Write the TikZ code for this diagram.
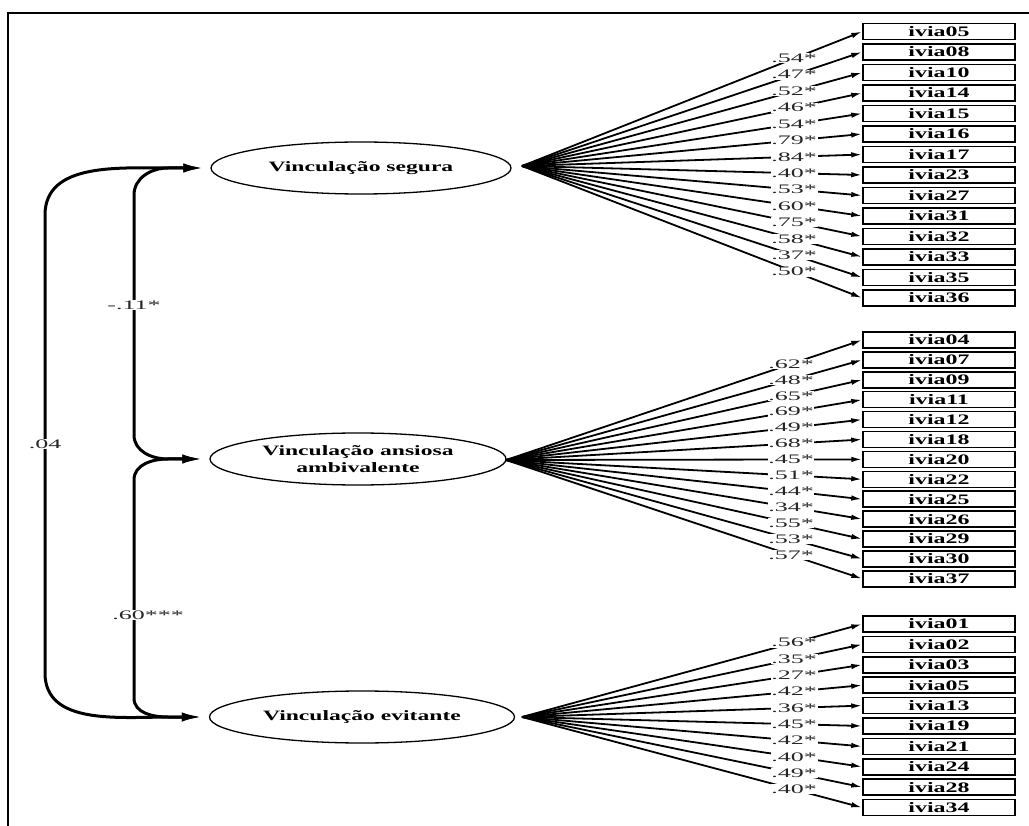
\documentclass[tikz,border=0pt]{standalone}
\usepackage{fontspec}
\setmainfont{Liberation Serif}
\newfontfamily\itemfont{Liberation Serif}[FakeStretch=1.65]
\newfontfamily\coeffont{Liberation Serif}[FakeStretch=2.0]
\usetikzlibrary{arrows.meta,shapes.geometric}

\tikzset{
  latent/.style={draw, ellipse, line width=1.3pt, minimum width=300pt, minimum height=52pt,
    inner sep=0pt, align=center, font=\itemfont\bfseries\fontsize{14.3}{17}\selectfont},
  item/.style={draw, line width=1.5pt, minimum width=152pt, minimum height=16pt, inner sep=0pt,
    font=\itemfont\bfseries\fontsize{14.5}{16}\selectfont},
  load/.style={line width=1.8pt, -{Latex[length=11pt,width=5.5pt]}},
  cov/.style={line width=3pt, {Latex[length=20pt,width=9pt]}-{Latex[length=20pt,width=9pt]}},
  coef/.style={fill=white, inner sep=0.6pt, text=black!85, font=\coeffont\fontsize{13}{14}\selectfont},
}

\begin{document}
\begin{tikzpicture}[x=1pt,y=-1pt]
\useasboundingbox (0,0) rectangle (1029,826);
\draw[line width=2pt] (1029,13) -- (8,13) -- (8,826);

% latent factors
\node[latent] (seg) at (361,168) {Vinculação segura};
\node[latent, minimum width=296pt] (amb) at (358,459) {Vinculação ansiosa\\ambivalente};
\node[latent, minimum width=305pt] (evi) at (362,717) {Vinculação evitante};

\coordinate (segfan) at (522,166);
\coordinate (ambfan) at (506,460);
\coordinate (evifan) at (522,717);

% items of each factor
\foreach \nm/\val [count=\i from 0] in {05/.54,08/.47,10/.52,14/.46,15/.54,16/.79,17/.84,
    23/.40,27/.53,31/.60,32/.75,33/.58,35/.37,36/.50} {
  \node[item] (s\i) at (939,31.5+20.5*\i) {ivia\nm};
  \draw[load] (segfan) -- node[coef, pos=0.8] {\val*} (s\i.west);
}
\foreach \nm/\val [count=\i from 0] in {04/.62,07/.48,09/.65,11/.69,12/.49,18/.68,20/.45,
    22/.51,25/.44,26/.34,29/.55,30/.53,37/.57} {
  \node[item] (a\i) at (939,340+19.9*\i) {ivia\nm};
  \draw[load] (ambfan) -- node[coef, pos=0.8] {\val*} (a\i.west);
}
\foreach \nm/\val [count=\i from 0] in {01/.56,02/.35,03/.27,05/.42,13/.36,19/.45,21/.42,
    24/.40,28/.49,34/.40} {
  \node[item] (e\i) at (939,624+20.4*\i) {ivia\nm};
  \draw[load] (evifan) -- node[coef, pos=0.8] {\val*} (e\i.west);
}

% correlations
\draw[cov] ([xshift=-7pt]seg.west) -- (172,168) to[out=180,in=90] (45,215)
  -- node[coef] {.04} (45,673) to[out=-90,in=180] (172,717) -- ([xshift=-7pt]evi.west);
\draw[cov] ([xshift=-7pt]seg.west) -- (168,168) to[out=180,in=90] (134,195)
  -- node[coef, pos=0.46] {-.11*} (134,435) to[out=-90,in=180] (168,459) -- ([xshift=-7pt]amb.west);
\draw[cov] ([xshift=-7pt]amb.west) -- (168,459) to[out=180,in=90] (134,480)
  -- (134,698) to[out=-90,in=180] (168,717) -- ([xshift=-7pt]evi.west);
\node[coef] (r60) at (148,615) {.60***};
\end{tikzpicture}
\end{document}
